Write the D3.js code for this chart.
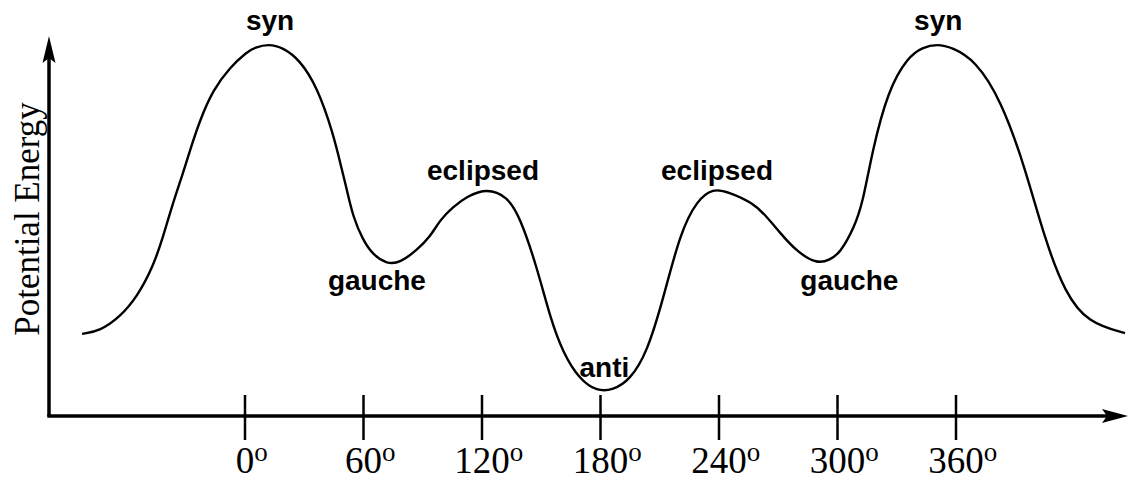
<!DOCTYPE html>
<html>
<head>
<meta charset="utf-8">
<script src="https://cdn.jsdelivr.net/npm/d3@7/dist/d3.min.js"></script>
<style>
  html, body { margin: 0; padding: 0; background: #fff; }
  svg { display: block; }
  .tick-label { font-family: "Liberation Serif", "Times New Roman", serif; font-size: 37px; fill: #000; }
  .axis-title { font-family: "Liberation Serif", "Times New Roman", serif; font-size: 35px; fill: #000; }
  .conf-label { font-family: "Liberation Sans", Arial, sans-serif; font-size: 28px; font-weight: bold; fill: #000; }
</style>
</head>
<body>
<svg id="chart" width="1128" height="480"></svg>
<script>
'use strict';

/* ── Data: dihedral angle (deg) vs potential energy (arbitrary units) ── */
const angles = [-82.5, -73.4, -63.3, -54.7, -46.6, -41.5, -36.5, -31.4, -27.8, -22.8, -16.2, -7.6, 1.0, 5.0,
  12.0, 19.0, 27.8, 36.5, 44.6, 49.1, 51.6, 54.7, 59.7, 64.8, 71.9, 78.5, 87.1, 93.7, 98.7, 105.3,
  112.4, 122.5, 132.7, 139.2, 147.8, 154.4, 161.0, 169.6, 178.2, 186.3, 194.9, 203.5, 211.6, 220.3,
  228.9, 237.0, 244.6, 257.2, 264.3, 270.9, 279.5, 289.6, 296.2, 301.3, 308.4, 312.9, 317.5, 325.6,
  335.7, 343.0, 350.5, 358.0, 369.6, 382.8, 394.9, 405.1, 415.2, 426.8, 445.6];
const energies = [21.6, 22.4, 26.1, 31.3, 39.2, 47.1, 56.1, 63.9, 70.0, 77.9, 85.8, 91.8, 95.8, 97.0,
  97.9, 97.0, 93.7, 86.6, 74.5, 64.7, 59.5, 52.4, 46.3, 42.4, 40.0, 40.3, 43.7, 47.1, 51.6, 55.0,
  57.8, 59.9, 57.8, 52.4, 39.2, 26.1, 16.6, 9.5, 6.5, 6.8, 9.5, 16.6, 30.5, 48.2,
  56.8, 59.9, 59.0, 56.1, 52.4, 48.2, 43.2, 40.0, 41.1, 42.9, 49.5, 56.3, 69.5, 85.8,
  94.5, 97.0, 97.9, 97.0, 93.7, 83.2, 65.5, 46.3, 32.4, 24.5, 21.8];

const tickAngles = [0, 60, 120, 180, 240, 300, 360];
const tickLabels = ['0', '60', '120', '180', '240', '300', '360'];

const confNames = ['syn', 'gauche', 'eclipsed', 'anti', 'eclipsed', 'gauche', 'syn'];
const confAngles = [12.7, 66.8, 120.5, 182, 239, 306, 351];
const confEnergies = [101.6, 33.2, 62.1, 10.3, 62.1, 33.2, 101.6];

const yTitle = 'Potential Energy';

/* ── Scales ── */
const svg = d3.select('#chart');
const x = d3.scaleLinear().domain([0, 360]).range([245, 956]);
const y = d3.scaleLinear().domain([0, 100]).range([416, 36]);
const x0 = 49;            // y-axis position
const y0 = y(0);          // x-axis position
const xEnd = 1128;

/* ── Axes ── */
svg.append('line')
  .attr('x1', x0).attr('y1', y0).attr('x2', x0).attr('y2', y(100) + 20)
  .attr('stroke', '#000').attr('stroke-width', 3.5);
svg.append('line')
  .attr('x1', x0 - 1.75).attr('y1', y0).attr('x2', xEnd - 18).attr('y2', y0)
  .attr('stroke', '#000').attr('stroke-width', 3.5);

// arrowheads
const ty = y(100);
svg.append('path')
  .attr('d', `M${x0},${ty} L${x0 + 6.5},${ty + 27} L${x0},${ty + 22} L${x0 - 6.5},${ty + 27} Z`)
  .attr('fill', '#000');
svg.append('path')
  .attr('d', `M${xEnd},${y0} L${xEnd - 26},${y0 + 7} L${xEnd - 21},${y0} L${xEnd - 26},${y0 - 7} Z`)
  .attr('fill', '#000');

/* ── Ticks ── */
svg.append('g').selectAll('line')
  .data(tickAngles)
  .join('line')
  .attr('x1', d => x(d)).attr('x2', d => x(d))
  .attr('y1', y0 - 21).attr('y2', y0 + 24)
  .attr('stroke', '#000').attr('stroke-width', 2.5);

const tl = svg.append('g').selectAll('g')
  .data(tickAngles)
  .join('g')
  .attr('transform', d => `translate(${x(d)},473)`);
tl.append('text')
  .attr('class', 'tick-label')
  .attr('text-anchor', 'middle')
  .text((d, i) => tickLabels[i]);
tl.each(function (d, i) {
  const g = d3.select(this);
  const w = g.select('text').node().getComputedTextLength();
  g.append('text')
    .attr('class', 'tick-label')
    .attr('x', w / 2)
    .attr('y', -12)
    .style('font-size', '27px')
    .text('o');
});

/* ── Y axis title ── */
svg.append('text')
  .attr('class', 'axis-title')
  .attr('text-anchor', 'middle')
  .attr('transform', 'translate(39,219) rotate(-90)')
  .text(yTitle);

/* ── Energy curve ── */
const pts = angles.map((a, i) => [a, energies[i]]);
const line = d3.line()
  .x(d => x(d[0]))
  .y(d => y(d[1]))
  .curve(d3.curveBasis);
svg.append('path')
  .attr('d', line(pts))
  .attr('fill', 'none')
  .attr('stroke', '#000')
  .attr('stroke-width', 2.4);

/* ── Conformer labels ── */
svg.append('g').selectAll('text')
  .data(confNames)
  .join('text')
  .attr('class', 'conf-label')
  .attr('text-anchor', 'middle')
  .attr('x', (d, i) => x(confAngles[i]))
  .attr('y', (d, i) => y(confEnergies[i]))
  .text(d => d);
</script>
</body>
</html>
